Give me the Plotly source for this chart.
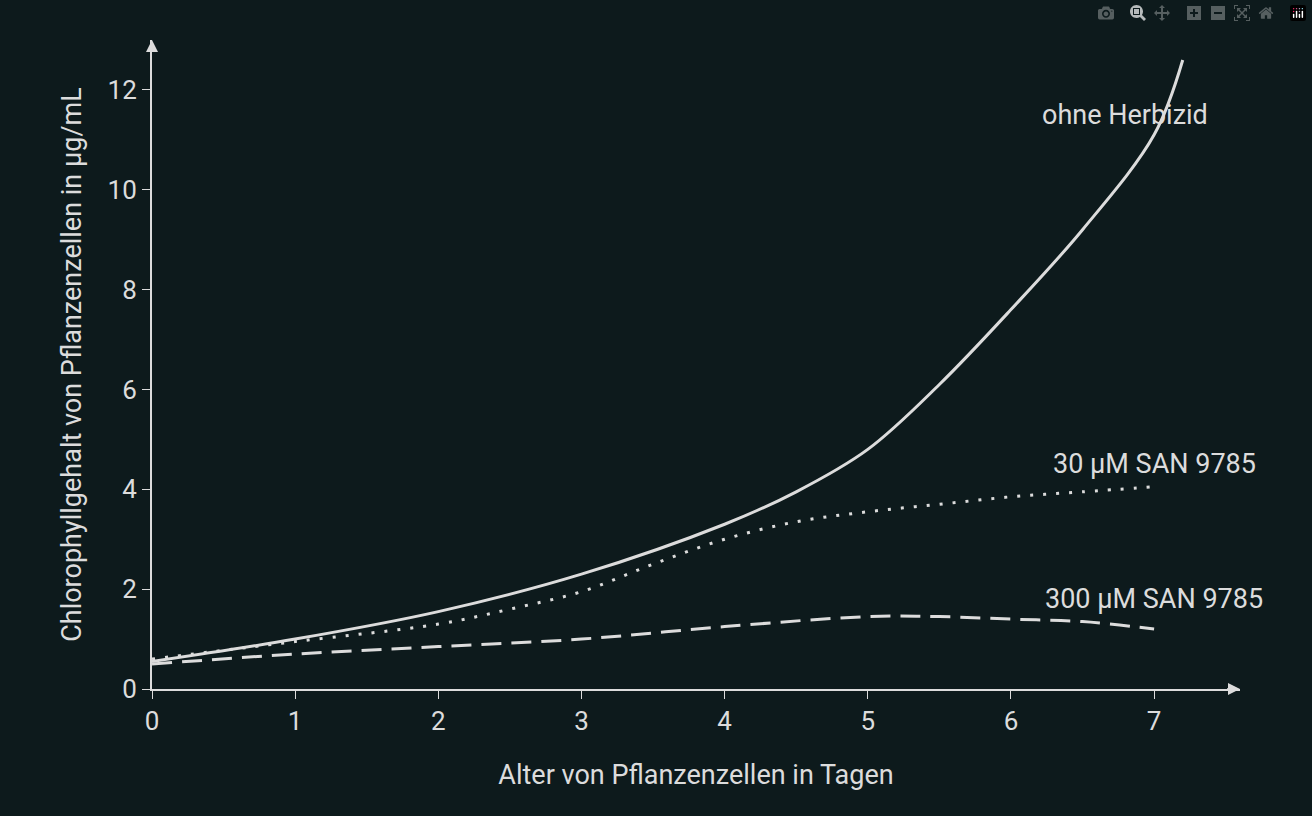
import plotly.graph_objects as go

days = [0, 1, 2, 3, 4, 4.5, 5, 5.5, 6, 6.5, 7, 7.2]
ohne = [0.55, 1.0, 1.55, 2.3, 3.3, 3.95, 4.8, 6.1, 7.6, 9.2, 11.1, 12.6]
days_b = [0, 1, 2, 2.5, 3, 3.5, 4, 4.5, 5, 5.5, 6, 6.5, 7]
san30 = [0.6, 0.95, 1.3, 1.6, 1.95, 2.5, 3.0, 3.35, 3.55, 3.7, 3.85, 3.95, 4.05]
days_c = [0, 1, 2, 3, 4, 5, 5.5, 6, 6.5, 7]
san300 = [0.5, 0.7, 0.85, 1.0, 1.25, 1.45, 1.45, 1.4, 1.35, 1.2]
xticks = [0, 1, 2, 3, 4, 5, 6, 7]
yticks = [0, 2, 4, 6, 8, 10, 12]

bg = "#0d1a1c"
fg = "#dcdcdc"
fnt = "Roboto"

fig = go.Figure()
fig.add_trace(go.Scatter(x=days, y=ohne, mode="lines", line=dict(color=fg, width=3, shape="spline", smoothing=1.0)))
fig.add_trace(go.Scatter(x=days_b, y=san30, mode="lines", line=dict(color=fg, width=3, dash="3px,10px", shape="spline", smoothing=1.0)))
fig.add_trace(go.Scatter(x=days_c, y=san300, mode="lines", line=dict(color=fg, width=3, dash="20px,10px", shape="spline", smoothing=1.0)))

for txt, x, y in [("ohne Herbizid", 6.8, 11.5), ("30 µM SAN 9785", 7.0, 4.5), ("300 µM SAN 9785", 7.0, 1.8)]:
    fig.add_annotation(x=x, y=y, text=txt, showarrow=False, font=dict(size=27, color=fg, family=fnt), xanchor="center")

fig.add_annotation(x=7.6, y=0, ax=7.5, ay=0, xref="x", yref="y", axref="x", ayref="y",
                   showarrow=True, arrowhead=2, arrowsize=1.2, arrowwidth=2, arrowcolor=fg, text="")
fig.add_annotation(x=0, y=13, ax=0, ay=12.8, xref="x", yref="y", axref="x", ayref="y",
                   showarrow=True, arrowhead=2, arrowsize=1.2, arrowwidth=2, arrowcolor=fg, text="")

fig.update_layout(
    width=1312, height=816, paper_bgcolor=bg, plot_bgcolor=bg, showlegend=False,
    margin=dict(l=152, r=72, t=40, b=127),
    font=dict(family=fnt, color=fg, size=26),
    xaxis=dict(range=[0, 7.6], tickvals=xticks, showgrid=False, zeroline=False,
               showline=True, linecolor=fg, linewidth=2, ticks="outside", ticklen=8, tickcolor=fg,
               title=dict(text="Alter von Pflanzenzellen in Tagen", font=dict(size=27), standoff=30)),
    yaxis=dict(range=[0, 13], tickvals=yticks, showgrid=False, zeroline=False,
               showline=True, linecolor=fg, linewidth=2, ticks="outside", ticklen=8, tickcolor=fg,
               title=dict(text="Chlorophyllgehalt von Pflanzenzellen in µg/mL", font=dict(size=27), standoff=18)),
)
fig.write_html("out.html", post_script="document.body.style.margin='0';document.body.style.background='#0d1a1c';")
